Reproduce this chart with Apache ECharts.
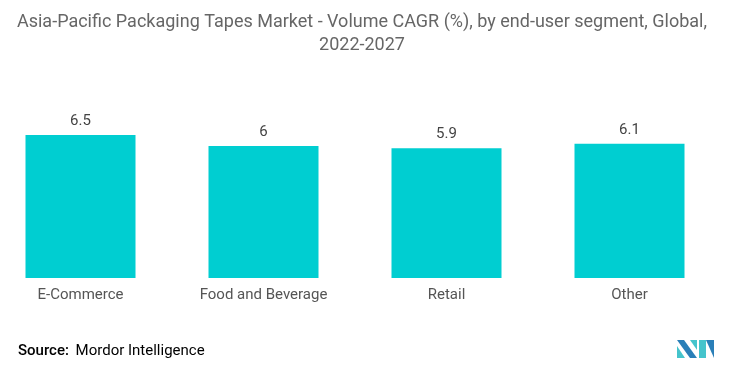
<!DOCTYPE html>
<html>
<head>
<meta charset="utf-8">
<script src="https://cdn.jsdelivr.net/npm/echarts@6/dist/echarts.min.js"></script>
<style>html,body{margin:0;padding:0;background:#fff;}#c{width:735px;height:372px;}</style>
</head>
<body>
<div id="c"></div>
<script>
const categories = ['E-Commerce', 'Food and Beverage', 'Retail', 'Other'];
const values = [6.5, 6, 5.9, 6.1];
const titleText = 'Asia-Pacific Packaging Tapes Market - Volume CAGR (%), by end-user segment, Global,\n2022-2027';

const chart = echarts.init(document.getElementById('c'));
chart.setOption({
  animation: false,
  backgroundColor: '#fff',
  title: {
    text: titleText,
    left: 357,
    textAlign: 'center',
    top: 6,
    textStyle: { fontFamily: 'Roboto', fontSize: 18, fontWeight: 'normal', color: '#666', lineHeight: 23 }
  },
  grid: { left: -11, width: 732, top: 124, bottom: 94, outerBoundsMode: 'none', containLabel: false },
  xAxis: {
    type: 'category',
    data: categories,
    axisLine: { show: false },
    axisTick: { show: false },
    axisLabel: { margin: 10, fontFamily: 'Roboto', fontSize: 15, color: '#555' }
  },
  yAxis: { type: 'value', min: 0, max: 7, show: false, splitLine: { show: false } },
  series: [{
    type: 'bar',
    data: values,
    barWidth: 110,
    itemStyle: { color: '#00CED1' },
    label: { show: true, position: 'top', distance: 6, fontFamily: 'Roboto', fontSize: 15, color: '#444' }
  }],
  graphic: [
    {
      type: 'text', left: 18, top: 344,
      style: {
        text: '{a|Source:}  {b|Mordor Intelligence}',
        rich: {
          a: { fontFamily: 'Roboto', fontSize: 15, color: '#555', fontWeight: 500 },
          b: { fontFamily: 'Roboto', fontSize: 15, color: '#777' }
        }
      }
    },
    { type: 'polygon', shape: { points: [[677,340],[684,340],[697,358],[690,358]] }, style: { fill: '#2A7FB8' } },
    { type: 'polygon', shape: { points: [[677,346],[677,358],[685,358]] }, style: { fill: '#45C4CC' } },
    { type: 'polygon', shape: { points: [[690,340],[697,340],[697,350]] }, style: { fill: '#45C4CC' } },
    { type: 'polygon', shape: { points: [[699,340],[706,340],[706,358],[699,358]] }, style: { fill: '#45C4CC' } },
    { type: 'polygon', shape: { points: [[706,340],[714,340],[714,358]] }, style: { fill: '#2A7FB8' } }
  ]
});
</script>
</body>
</html>
